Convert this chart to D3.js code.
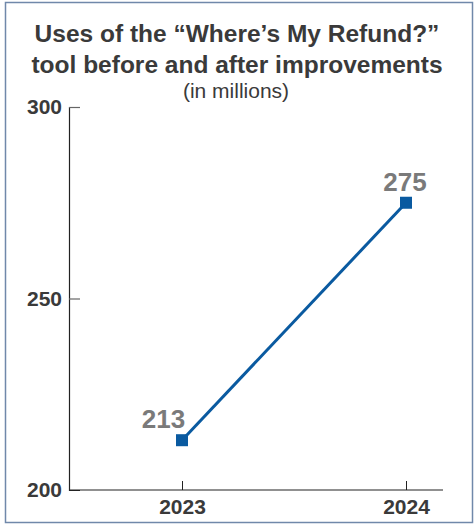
<!DOCTYPE html>
<html>
<head>
<meta charset="utf-8">
<script src="https://cdn.jsdelivr.net/npm/d3@7"></script>
<style>
  body { margin: 0; background: #fff; }
  svg { display: block; }
</style>
</head>
<body>
<svg id="chart" width="474" height="525"></svg>
<script>
const years = ['2023', '2024']
const uses = [213, 275]
const yTicks = [200, 250, 300]
const titleLines = ['Uses of the \u201CWhere\u2019s My Refund?\u201D', 'tool before and after improvements']
const subtitle = '(in millions)'

const svg = d3.select('#chart')
const font = 'Helvetica, Arial, "Liberation Sans", sans-serif'
const margin = { left: 69, right: 31, top: 107, bottom: 35 }
const width = 474 - margin.left - margin.right
const height = 525 - margin.top - margin.bottom

// frame
svg.append('rect')
  .attr('x', 5.5)
  .attr('y', 2.5)
  .attr('width', 467)
  .attr('height', 520)
  .attr('fill', 'none')
  .attr('stroke', '#7088aa')
  .attr('stroke-width', 1.5)

// title
svg.selectAll('text.title')
  .data(titleLines)
  .enter()
  .append('text')
    .attr('class', 'title')
    .attr('x', 237)
    .attr('y', (d, i) => 42 + i * 31)
    .attr('text-anchor', 'middle')
    .attr('font-family', font)
    .attr('font-weight', 'bold')
    .attr('font-size', '24.5px')
    .attr('fill', '#3a3a3a')
    .text(d => d)

svg.append('text')
  .attr('x', 236)
  .attr('y', 98)
  .attr('text-anchor', 'middle')
  .attr('font-family', font)
  .attr('font-size', '21px')
  .attr('fill', '#3a3a3a')
  .text(subtitle)

const g = svg.append('g')
  .attr('transform', `translate(${margin.left}, ${margin.top})`)

const x = d3.scalePoint()
  .domain(years)
  .range([113, 337])

const y = d3.scaleLinear()
  .domain([200, 300])
  .range([height, 0])

// Y-axis (ticks point inward)
const yAxis = g.append('g')
  .call(d3.axisRight(y).tickValues(yTicks).tickSize(11).tickFormat(d3.format('d')))
yAxis.select('.domain').attr('stroke', '#222').attr('stroke-width', 1.2)
yAxis.selectAll('.tick line').attr('stroke', '#666').attr('stroke-width', 1.2)
yAxis.selectAll('.tick text')
  .attr('x', -7)
  .attr('text-anchor', 'end')
  .attr('font-family', font)
  .attr('font-weight', 'bold')
  .attr('font-size', '21px')
  .attr('fill', '#3a3a3a')
yAxis.selectAll('.tick').filter(d => d === 200).select('line').remove()

// X-axis
const xAxis = g.append('g')
  .attr('transform', `translate(0, ${height})`)
  .call(d3.axisBottom(x).tickSize(0))
xAxis.select('.domain').remove()
xAxis.append('line')
  .attr('x1', 0)
  .attr('x2', width)
  .attr('stroke', '#222')
  .attr('stroke-width', 1.2)
xAxis.selectAll('.tick line')
  .attr('y1', 0)
  .attr('y2', -9)
  .attr('stroke', '#222')
  .attr('stroke-width', 1)
xAxis.selectAll('.tick text')
  .attr('y', 9)
  .attr('dy', '0.71em')
  .attr('font-family', font)
  .attr('font-weight', 'bold')
  .attr('font-size', '21px')
  .attr('fill', '#3a3a3a')

const data = years.map((yr, i) => ({ year: yr, value: uses[i] }))

// Line
const line = d3.line()
  .x(d => x(d.year))
  .y(d => y(d.value))

g.append('path')
  .datum(data)
  .attr('fill', 'none')
  .attr('stroke', '#0a5aa0')
  .attr('stroke-width', 3)
  .attr('d', line)

// Markers
g.selectAll('rect.marker')
  .data(data)
  .enter()
  .append('rect')
    .attr('class', 'marker')
    .attr('x', d => x(d.year) - 6)
    .attr('y', d => y(d.value) - 6)
    .attr('width', 12)
    .attr('height', 12)
    .attr('fill', '#0a5aa0')

// Labels
g.selectAll('text.value')
  .data(data)
  .enter()
  .append('text')
    .attr('class', 'value')
    .attr('x', d => x(d.year) - (d.year === '2023' ? 18.5 : 1))
    .attr('y', d => y(d.value) - 12)
    .attr('text-anchor', 'middle')
    .attr('font-family', font)
    .attr('font-weight', 'bold')
    .attr('font-size', '26px')
    .attr('fill', '#7a7a7a')
    .text(d => String(d.value))
</script>
</body>
</html>
